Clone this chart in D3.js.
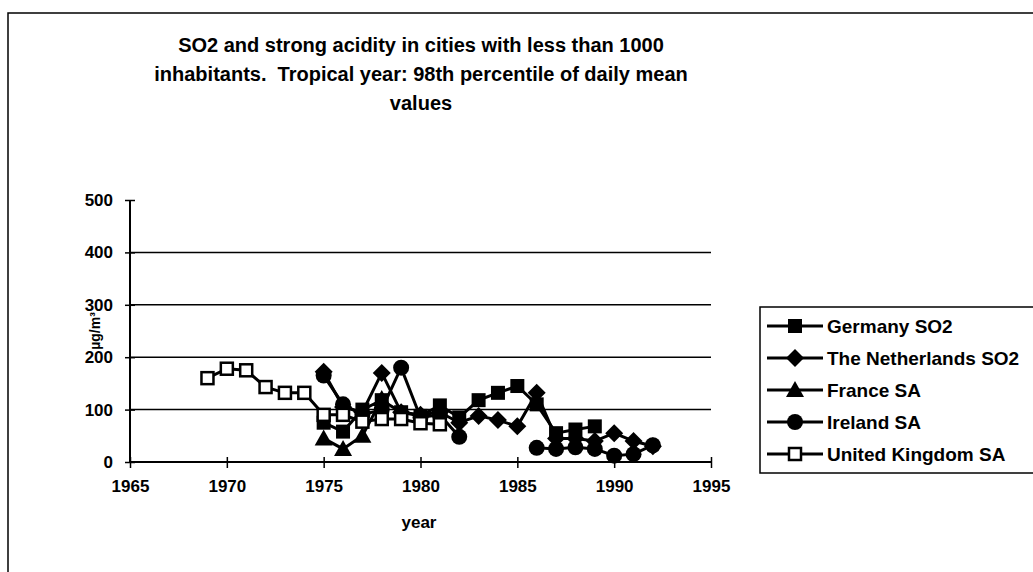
<!DOCTYPE html>
<html>
<head>
<meta charset="utf-8">
<script src="https://cdn.jsdelivr.net/npm/d3@7"></script>
<style>
  body { margin: 0; background: #fff; }
  svg { display: block; font-family: "Liberation Sans", Arial, sans-serif; font-weight: bold; }
  text { white-space: pre; }
</style>
</head>
<body>
<div id="chart"></div>
<script>
const years = d3.range(1969, 1993);
const germany =     [null,null,null,null,null,null, 75, 58,100,118, 95, 88,108, 85,118,132,145,110, 55, 62, 68,null,null,null];
const netherlands = [null,null,null,null,null,null,172,105, 95,170, 95, 90, 95, 75, 88, 80, 68,132, 45, 45, 40, 55, 40, 30];
const france =      [null,null,null,null,null,null, 45, 25, 50,120,null,null,null,null,null,null,null,null,null,null,null,null,null,null];
const ireland =     [null,null,null,null,null,null,165,110, 90,100,180, 85, 90, 48,null,null,null, 27, 25, 28, 25, 12, 15, 32];
const uk =          [160,178,175,143,132,132, 90, 90, 77, 82, 82, 74, 72,null,null,null,null,null,null,null,null,null,null,null];

const seriesNames = ['Germany SO2', 'The Netherlands SO2', 'France SA', 'Ireland SA', 'United Kingdom SA'];
const seriesValues = [germany, netherlands, france, ireland, uk];
const seriesSymbols = ['square', 'diamond', 'triangle', 'circle', 'openSquare'];

const xTicks = [1965, 1970, 1975, 1980, 1985, 1990, 1995];
const yTicks = [0, 100, 200, 300, 400, 500];
const titleLines = ['SO2 and strong acidity in cities with less than 1000',
  'inhabitants.  Tropical year: 98th percentile of daily mean', 'values'];

const W = 1033, H = 572;
const svg = d3.select('#chart').append('svg').attr('width', W).attr('height', H);

// outer frame
svg.append('rect').attr('x', 8).attr('y', 13).attr('width', W + 10).attr('height', H + 10)
  .attr('fill', 'none').attr('stroke', '#000').attr('stroke-width', 1.5);

svg.append('g').selectAll('text').data(titleLines).join('text')
  .attr('x', 421).attr('y', (d, i) => 52 + i * 29)
  .attr('text-anchor', 'middle').attr('font-size', 20).text(d => d);

const x = d3.scaleLinear().domain([1965, 1995]).range([130, 711]);
const y = d3.scaleLinear().domain([0, 500]).range([462, 200]);

// gridlines
svg.append('g').selectAll('line').data(yTicks.slice(1, -1)).join('line')
  .attr('x1', 130).attr('x2', 711).attr('y1', d => y(d)).attr('y2', d => y(d))
  .attr('stroke', '#000').attr('stroke-width', 1.5);

const yAxis = svg.append('g').attr('transform', 'translate(130,0)')
  .call(d3.axisLeft(y).tickValues(yTicks).tickSize(5).tickPadding(12));
const xAxis = svg.append('g').attr('transform', 'translate(0,462)')
  .call(d3.axisBottom(x).tickValues(xTicks).tickFormat(d3.format('d')).tickSize(6).tickPadding(12));
[yAxis, xAxis].forEach(a => {
  a.select('.domain').attr('stroke-width', 2);
  a.selectAll('.tick line').attr('stroke-width', 1.5);
  a.selectAll('text').attr('font-size', 17).attr('font-family', '"Liberation Sans", Arial, sans-serif').attr('font-weight', 'bold');
});
xAxis.selectAll('.tick line').attr('y1', -5);
yAxis.selectAll('.tick line').attr('x2', 5).attr('x1', -5);
xAxis.select('.domain').attr('d', 'M130,0H711');
yAxis.select('.domain').attr('d', 'M0,200V462');

svg.append('text').attr('x', 419).attr('y', 528).attr('text-anchor', 'middle').attr('font-size', 17).text('year');
svg.append('text').attr('transform', 'translate(100,331) rotate(-90)').attr('text-anchor', 'middle')
  .attr('font-size', 14).text('µg/m³');

function drawSymbol(g, kind, cx, cy) {
  if (kind === 'square') {
    g.append('rect').attr('x', cx - 7).attr('y', cy - 7).attr('width', 14).attr('height', 14).attr('fill', '#000');
  } else if (kind === 'openSquare') {
    g.append('rect').attr('x', cx - 6).attr('y', cy - 6).attr('width', 12).attr('height', 12)
      .attr('fill', '#fff').attr('stroke', '#000').attr('stroke-width', 2.5);
  } else if (kind === 'diamond') {
    g.append('path').attr('d', `M${cx},${cy - 9}L${cx + 9},${cy}L${cx},${cy + 9}L${cx - 9},${cy}Z`).attr('fill', '#000');
  } else if (kind === 'triangle') {
    g.append('path').attr('d', `M${cx},${cy - 9}L${cx + 9},${cy + 7}L${cx - 9},${cy + 7}Z`).attr('fill', '#000');
  } else {
    g.append('circle').attr('cx', cx).attr('cy', cy).attr('r', 8).attr('fill', '#000');
  }
}

const line = d3.line().defined(d => d.v !== null).x(d => x(d.yr)).y(d => y(d.v));
seriesValues.forEach((vals, si) => {
  const pts = years.map((yr, i) => ({ yr, v: vals[i] }));
  const g = svg.append('g');
  g.append('path').datum(pts).attr('d', line).attr('fill', 'none').attr('stroke', '#000').attr('stroke-width', 3);
  pts.filter(p => p.v !== null).forEach(p => drawSymbol(g, seriesSymbols[si], x(p.yr), y(p.v)));
});

// legend
const lg = svg.append('g');
lg.append('rect').attr('x', 760).attr('y', 307).attr('width', 300).attr('height', 166)
  .attr('fill', '#fff').attr('stroke', '#000').attr('stroke-width', 1.5);
seriesNames.forEach((name, i) => {
  const ly = 326 + i * 32;
  lg.append('line').attr('x1', 767).attr('x2', 823).attr('y1', ly).attr('y2', ly).attr('stroke', '#000').attr('stroke-width', 3);
  drawSymbol(lg, seriesSymbols[i], 795, ly);
  lg.append('text').attr('x', 827).attr('y', ly + 7).attr('font-size', 19).text(name);
});
</script>
</body>
</html>
